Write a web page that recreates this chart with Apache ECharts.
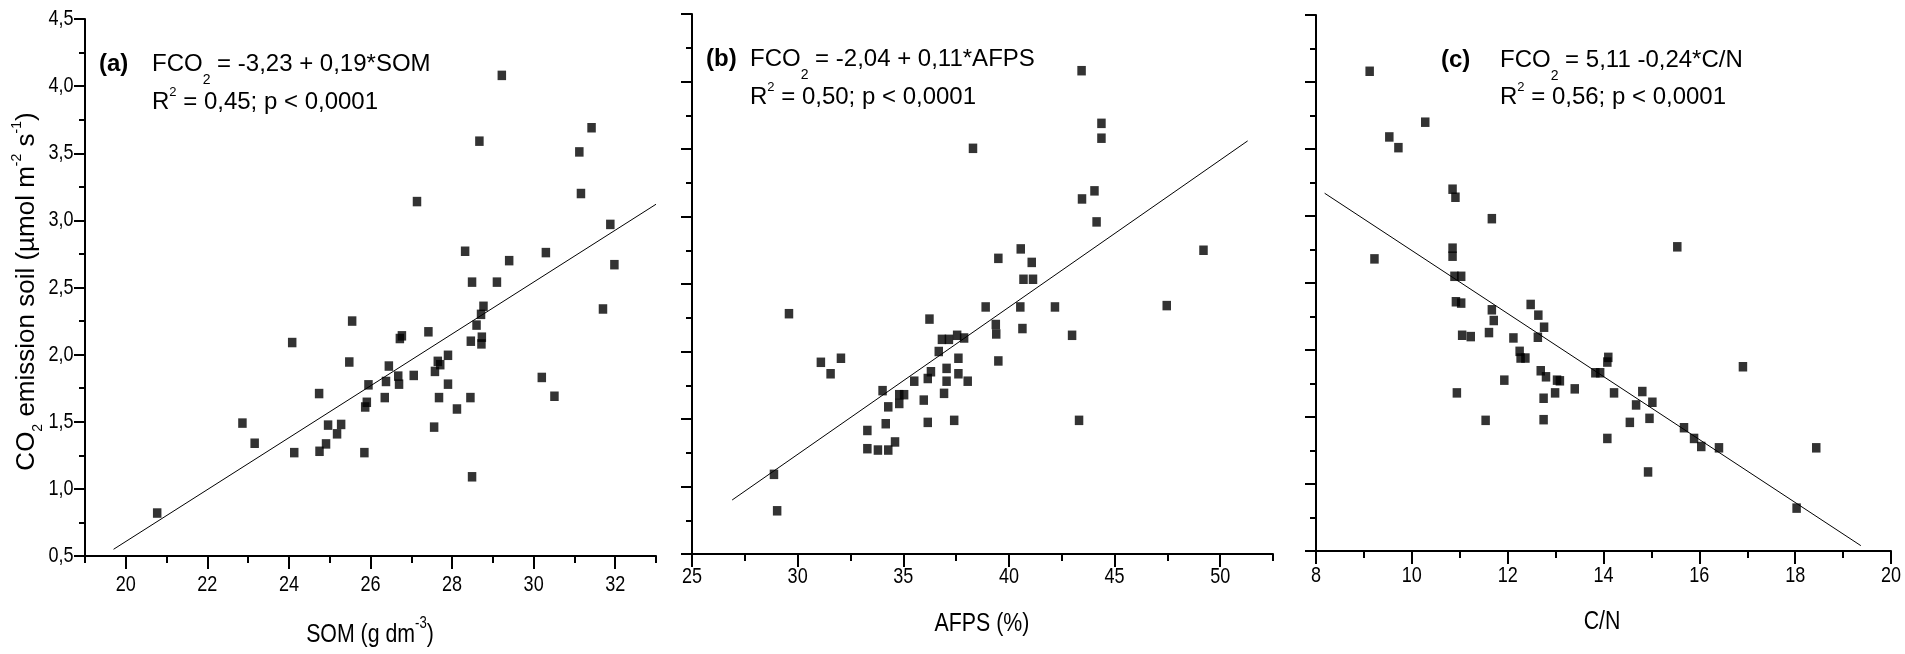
<!DOCTYPE html>
<html><head><meta charset="utf-8">
<script src="https://cdn.jsdelivr.net/npm/echarts@6/dist/echarts.min.js"></script>
<style>html,body{margin:0;padding:0;background:#fff}#c{width:1905px;height:654px}</style>
</head><body><div id="c"></div>
<script>
// ---- data ----
const somX = [29.22, 31.42, 28.67, 31.12, 27.14, 31.16, 31.88, 28.32, 30.30, 29.40, 31.98, 28.49, 29.10, 31.70, 28.77, 28.71, 25.55, 28.60, 27.42, 24.08, 26.72, 26.77, 28.46, 28.73, 28.72, 25.48, 26.45, 27.65, 27.71, 27.58, 27.90, 26.68, 26.70, 27.06, 25.95, 26.38, 27.90, 24.74, 26.35, 27.68, 28.45, 25.91, 25.87, 28.12, 30.51, 30.20, 22.86, 24.96, 25.28, 25.18, 27.56, 23.16, 24.91, 24.13, 24.75, 25.85, 28.49, 20.77];
const somY = [4.08, 3.69, 3.59, 3.51, 3.14, 3.20, 2.97, 2.77, 2.76, 2.70, 2.67, 2.54, 2.54, 2.34, 2.36, 2.30, 2.25, 2.22, 2.17, 2.09, 2.12, 2.14, 2.10, 2.13, 2.08, 1.945, 1.915, 1.95, 1.925, 1.875, 1.995, 1.84, 1.78, 1.845, 1.775, 1.80, 1.78, 1.71, 1.68, 1.68, 1.68, 1.645, 1.61, 1.595, 1.69, 1.83, 1.49, 1.475, 1.48, 1.41, 1.46, 1.34, 1.335, 1.27, 1.28, 1.27, 1.09, 0.82];

const afpsX = [43.44, 44.38, 44.38, 38.30, 44.05, 43.46, 44.15, 40.56, 49.21, 39.50, 41.08, 40.69, 41.14, 38.90, 40.54, 42.18, 47.47, 29.59, 36.24, 39.38, 40.64, 39.40, 42.99, 36.83, 37.16, 37.55, 37.88, 36.68, 31.10, 32.05, 31.56, 37.61, 39.50, 37.05, 36.31, 36.16, 37.61, 37.05, 38.05, 35.52, 34.02, 34.81, 35.04, 36.93, 34.81, 35.97, 34.29, 36.16, 37.41, 43.32, 34.17, 33.30, 34.61, 33.30, 33.80, 34.29, 28.88, 29.03];
const afpsY = [4.08, 3.69, 3.58, 3.505, 3.19, 3.13, 2.96, 2.76, 2.75, 2.69, 2.66, 2.535, 2.535, 2.33, 2.33, 2.33, 2.34, 2.28, 2.24, 2.20, 2.17, 2.13, 2.12, 2.09, 2.09, 2.12, 2.10, 2.00, 1.92, 1.95, 1.835, 1.95, 1.93, 1.875, 1.85, 1.80, 1.835, 1.78, 1.78, 1.78, 1.71, 1.68, 1.68, 1.69, 1.615, 1.64, 1.59, 1.475, 1.49, 1.49, 1.465, 1.415, 1.33, 1.28, 1.27, 1.27, 1.09, 0.82];

const cnX = [9.12, 10.28, 9.53, 9.72, 10.85, 10.91, 11.67, 15.54, 9.22, 10.85, 10.85, 10.89, 11.03, 10.92, 11.03, 11.67, 11.71, 12.48, 12.64, 12.76, 11.05, 11.23, 11.61, 12.12, 12.63, 12.25, 12.27, 12.37, 14.10, 14.08, 13.83, 13.93, 12.69, 12.80, 13.03, 13.09, 16.91, 11.93, 10.94, 13.40, 12.99, 14.22, 14.81, 12.75, 14.68, 15.02, 11.54, 12.75, 14.55, 14.96, 15.68, 14.08, 15.89, 16.04, 16.41, 18.44, 14.93, 18.03];
const cnY = [4.08, 3.70, 3.59, 3.51, 3.20, 3.14, 2.98, 2.77, 2.68, 2.76, 2.70, 2.55, 2.55, 2.36, 2.35, 2.30, 2.22, 2.34, 2.26, 2.17, 2.11, 2.10, 2.13, 2.09, 2.095, 1.99, 1.94, 1.94, 1.945, 1.91, 1.83, 1.83, 1.845, 1.80, 1.775, 1.77, 1.875, 1.775, 1.68, 1.71, 1.68, 1.68, 1.69, 1.64, 1.59, 1.61, 1.475, 1.48, 1.46, 1.49, 1.42, 1.34, 1.34, 1.28, 1.27, 1.27, 1.09, 0.82];

// fitted lines as drawn (endpoints)
const fitSomX = [19.7, 33.0], fitSomY = [0.55, 3.12];
const fitAfpsX = [26.9, 51.3], fitAfpsY = [0.90, 3.56];
const fitCnX = [8.18, 19.37], fitCnY = [3.17, 0.54];

// ticks
const yMajor = [0.5, 1.0, 1.5, 2.0, 2.5, 3.0, 3.5, 4.0, 4.5];
const yMinor = [0.75, 1.25, 1.75, 2.25, 2.75, 3.25, 3.75, 4.25];
const somMajor = [20, 22, 24, 26, 28, 30, 32];
const somMinor = [19, 21, 23, 25, 27, 29, 31, 33];
const afpsMajor = [25, 30, 35, 40, 45, 50];
const afpsMinor = [27.5, 32.5, 37.5, 42.5, 47.5, 52.5];
const cnMajor = [8, 10, 12, 14, 16, 18, 20];
const cnMinor = [9, 11, 13, 15, 17, 19];

// texts
const yTitle = '{t|CO}{sub|2}{t| emission soil (µmol m}{sup|-2}{t| s}{sup|-1}{t|)}';
const eqs = [
  {tag: '(a)', l1: ['FCO', '2', ' = -3,23 + 0,19*SOM'], l2: ['R', '2', ' = 0,45; p < 0,0001']},
  {tag: '(b)', l1: ['FCO', '2', ' = -2,04 + 0,11*AFPS'], l2: ['R', '2', ' = 0,50; p < 0,0001']},
  {tag: '(c)', l1: ['FCO', '2', ' = 5,11 -0,24*C/N'], l2: ['R', '2', ' = 0,56; p < 0,0001']}
];

// ---- chart ----
const REG = "'Liberation Sans',Arial,sans-serif";
const NARROW_SCALE = 0.82;   // emulate the condensed face of the original
const zip = (xs, ys) => xs.map((x, i) => [x, ys[i]]);

const grids = [
  {left: 85, top: 19, width: 571, height: 537},
  {left: 692, top: 14, width: 581, height: 540},
  {left: 1316, top: 15, width: 575, height: 536}
];
const xRanges = [[19, 33, somMajor, somMinor], [25, 52.5, afpsMajor, afpsMinor], [8, 20, cnMajor, cnMinor]];

const xAxis = [], yAxis = [];
xRanges.forEach((r, gi) => {
  xAxis.push({type: 'value', gridIndex: gi, min: r[0], max: r[1], position: 'bottom',
    axisLine: {show: true, onZero: false, lineStyle: {color: '#000', width: 2}},
    axisTick: {show: true, length: 13, lineStyle: {color: '#000', width: 2}, customValues: r[2]},
    axisLabel: {show: false}, splitLine: {show: false}});
});
xRanges.forEach((r, gi) => {
  xAxis.push({type: 'value', gridIndex: gi, min: r[0], max: r[1], position: 'bottom',
    axisLine: {show: false},
    axisTick: {show: true, length: 7, lineStyle: {color: '#000', width: 2}, customValues: r[3]},
    axisLabel: {show: false}, splitLine: {show: false}});
});
[0, 1, 2].forEach(gi => {
  yAxis.push({type: 'value', gridIndex: gi, min: 0.5, max: 4.5, position: 'left',
    axisLine: {show: true, onZero: false, lineStyle: {color: '#000', width: 2}},
    axisTick: {show: true, length: 11, lineStyle: {color: '#000', width: 2}, customValues: yMajor},
    axisLabel: {show: false}, splitLine: {show: false}});
});
[0, 1, 2].forEach(gi => {
  yAxis.push({type: 'value', gridIndex: gi, min: 0.5, max: 4.5, position: 'left',
    axisLine: {show: false},
    axisTick: {show: true, length: 6, lineStyle: {color: '#000', width: 2}, customValues: yMinor},
    axisLabel: {show: false}, splitLine: {show: false}});
});

const scat = (gi, xs, ys) => ({type: 'scatter', xAxisIndex: gi, yAxisIndex: gi, data: zip(xs, ys),
  symbol: 'rect', symbolSize: [8.5, 9.5], itemStyle: {color: '#000'}, silent: true, z: 3});
const fit = (gi, xs, ys) => ({type: 'line', xAxisIndex: gi, yAxisIndex: gi, data: zip(xs, ys),
  symbol: 'none', lineStyle: {color: '#000', width: 1}, silent: true, z: 2});

function txt(x, y, text, richStyles, align, rot, sx) {
  return {type: 'text', x: x, y: y, rotation: rot || 0, scaleX: sx || 1, silent: true,
    style: {text: text, rich: richStyles, align: align || 'left', verticalAlign: 'middle', fill: '#000'}};
}
const eqRich = {
  t: {fontSize: 24, fontFamily: REG, lineHeight: 40, verticalAlign: 'middle'},
  sub: {fontSize: 14, fontFamily: REG, lineHeight: 40, verticalAlign: 'middle', padding: [32, 0, 0, 0]},
  sup: {fontSize: 13, fontFamily: REG, lineHeight: 40, verticalAlign: 'middle', padding: [0, 0, 19, 0]},
  b: {fontSize: 24, fontFamily: REG, fontWeight: 'bold', lineHeight: 40, verticalAlign: 'middle'}
};
const eqPos = [
  {tagX: 99, x: 152, y1: 64, y2: 102},
  {tagX: 706, x: 750, y1: 59, y2: 97},
  {tagX: 1441, x: 1500, y1: 60, y2: 97}
];
const graphics = [];
eqs.forEach((e, i) => {
  const p = eqPos[i];
  graphics.push(txt(p.tagX, p.y1, '{b|' + e.tag + '}', eqRich));
  graphics.push(txt(p.x, p.y1, '{t|' + e.l1[0] + '}{sub|' + e.l1[1] + '}{t|' + e.l1[2] + '}', eqRich));
  graphics.push(txt(p.x, p.y2, '{t|' + e.l2[0] + '}{sup|' + e.l2[1] + '}{t|' + e.l2[2] + '}', eqRich));
});
const titleRich = {
  t: {fontSize: 26, fontFamily: REG, lineHeight: 44, verticalAlign: 'middle'},
  sup: {fontSize: 16, fontFamily: REG, lineHeight: 44, verticalAlign: 'middle', padding: [0, 0, 23, 0]}
};
graphics.push(txt(370, 635, '{t|SOM (g dm}{sup|-3}{t|)}', titleRich, 'center', 0, NARROW_SCALE));
graphics.push(txt(982, 623.5, '{t|AFPS (%)}', titleRich, 'center', 0, NARROW_SCALE));
graphics.push(txt(1602, 622, '{t|C/N}', titleRich, 'center', 0, NARROW_SCALE));
const yRich = {
  t: {fontSize: 26, fontFamily: REG, lineHeight: 50, verticalAlign: 'middle'},
  sub: {fontSize: 14, fontFamily: REG, lineHeight: 50, verticalAlign: 'middle', padding: [23, 0, 0, 0]},
  sup: {fontSize: 14, fontFamily: REG, lineHeight: 50, verticalAlign: 'middle', padding: [0, 0, 19, 0]}
};
graphics.push(txt(27, 291.5, yTitle, yRich, 'center', Math.PI / 2));

const chart = echarts.init(document.getElementById('c'), null, {renderer: 'canvas'});
chart.setOption({
  animation: false,
  backgroundColor: '#fff',
  grid: grids,
  xAxis: xAxis,
  yAxis: yAxis,
  series: [scat(0, somX, somY), scat(1, afpsX, afpsY), scat(2, cnX, cnY),
           fit(0, fitSomX, fitSomY), fit(1, fitAfpsX, fitAfpsY), fit(2, fitCnX, fitCnY)]
});

// tick labels: placed from the axes' own scales, drawn in a condensed face
const tickText = (x, y, s, align) => ({type: 'text', x: x, y: y, scaleX: NARROW_SCALE, silent: true,
  style: {text: s, font: "22px 'Liberation Sans'", fill: '#000', align: align, verticalAlign: 'middle'}});
const xLabelDy = [29, 23, 25];
[somMajor, afpsMajor, cnMajor].forEach((ticks, gi) => {
  const y0 = chart.convertToPixel({yAxisIndex: gi}, 0.5);
  ticks.forEach(v => {
    graphics.push(tickText(chart.convertToPixel({xAxisIndex: gi}, v), y0 + xLabelDy[gi], String(v), 'center'));
  });
});
const xA = chart.convertToPixel({xAxisIndex: 0}, 19);
yMajor.forEach(v => {
  graphics.push(tickText(xA - 11.5, chart.convertToPixel({yAxisIndex: 0}, v), v.toFixed(1).replace('.', ','), 'right'));
});
chart.setOption({graphic: graphics});
</script></body></html>
